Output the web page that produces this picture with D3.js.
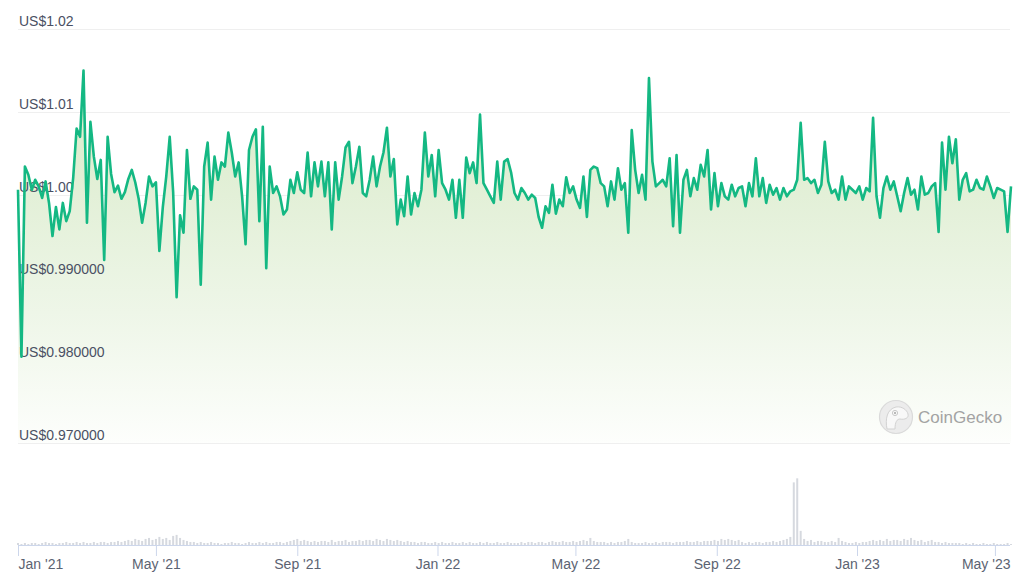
<!DOCTYPE html>
<html><head><meta charset="utf-8">
<script src="https://cdn.jsdelivr.net/npm/d3@7"></script>
<style>
html,body{margin:0;padding:0;background:#fff;}
svg{display:block;font-family:"Liberation Sans",Arial,sans-serif;}
</style></head><body>
<svg id="chart" width="1028" height="584"></svg>
<script>
// ---- data ----
const startDate = "2021-01-01";
const stepDays = 3;
const prices = [
1.0006,0.9804,1.0034,1.0024,1.0006,1.0018,1.0010,0.9996,1.0016,0.9990,
0.9950,0.9985,0.9958,0.9990,0.9968,0.9980,1.0020,1.0080,1.0070,1.0150,
0.9966,1.0088,1.0046,1.0019,1.0042,0.9921,1.0070,1.0025,1.0003,1.0011,
0.9995,1.0003,1.0019,1.0030,1.0015,0.9995,0.9966,0.9990,1.0022,1.0010,
1.0015,0.9932,0.9985,1.0022,1.0070,1.0003,0.9876,0.9975,0.9954,1.0054,
0.9995,1.0010,1.0006,0.9891,1.0034,1.0063,0.9994,1.0046,1.0018,1.0039,
1.0034,1.0075,1.0051,1.0022,1.0039,0.9998,0.9940,1.0054,1.0070,1.0079,
0.9968,1.0082,0.9911,1.0034,1.0002,1.0010,0.9998,0.9976,0.9982,1.0018,
1.0002,1.0027,1.0006,1.0002,1.0051,0.9998,1.0039,1.0010,1.0040,0.9998,
1.0039,0.9958,1.0039,0.9994,1.0022,1.0057,1.0064,1.0014,1.0034,1.0058,
1.0002,0.9998,1.0018,1.0046,1.0010,1.0034,1.0051,1.0081,1.0022,1.0043,
0.9964,0.9994,0.9974,1.0022,0.9976,1.0002,0.9986,1.0006,1.0075,1.0022,
1.0048,0.9998,1.0054,1.0014,1.0006,0.9994,1.0018,0.9972,1.0018,0.9972,
1.0045,1.0026,1.0039,1.0014,1.0097,1.0014,1.0006,0.9998,0.9990,1.0040,
0.9994,1.0040,1.0043,1.0027,1.0002,0.9994,1.0008,1.0002,0.9994,1.0000,
0.9996,0.9973,0.9960,0.9986,0.9978,1.0012,0.9977,0.9994,0.9986,1.0021,
1.0002,1.0010,0.9994,0.9984,1.0022,0.9973,1.0030,1.0034,1.0032,1.0014,
1.0010,0.9986,1.0016,0.9994,1.0032,1.0006,1.0014,0.9954,1.0078,1.0030,
1.0002,1.0024,0.9994,1.0141,1.0040,1.0010,1.0014,1.0018,1.0010,1.0044,
0.9962,1.0048,0.9954,1.0018,1.0030,0.9998,1.0020,1.0006,1.0036,1.0022,
1.0054,0.9982,1.0026,0.9986,1.0014,0.9998,0.9994,1.0012,0.9998,1.0008,
1.0010,0.9986,1.0014,0.9998,1.0044,0.9998,1.0020,0.9990,1.0012,1.0000,
1.0008,0.9994,1.0008,0.9998,1.0004,1.0006,1.0018,1.0087,1.0018,1.0020,
1.0014,1.0018,1.0002,1.0012,1.0064,1.0016,1.0002,1.0006,0.9994,1.0022,
0.9994,1.0010,1.0006,1.0002,1.0010,0.9994,1.0008,1.0004,1.0093,0.9998,
0.9972,1.0008,1.0022,1.0006,1.0016,0.9998,0.9980,1.0002,1.0020,1.0000,
1.0006,0.9982,1.0022,1.0000,1.0002,1.0010,1.0014,0.9955,1.0063,1.0006,
1.0070,1.0038,1.0067,0.9994,1.0018,1.0026,1.0004,1.0006,1.0018,1.0008,
1.0006,1.0022,1.0010,0.9996,1.0008,1.0006,1.0004,0.9955,1.0010
];
const volumes = [
2,1,2,1,2,2,1,2,3,2, 2,1,2,2,3,2,2,3,2,3, 2,2,3,2,3,3,2,3,3,4,
3,4,5,4,6,5,4,6,7,5, 6,8,6,7,5,9,10,7,5,4,
3,3,2,3,2,2,3,2,2,1, 2,2,3,2,2,1,2,3,2,2, 3,2,3,2,2,3,3,2,3,4,
5,6,4,5,4,3,4,3,4,4, 3,5,3,4,4,5,3,4,4,5,
4,5,5,4,6,5,4,6,5,4, 5,4,3,4,3,3,2,3,3,2, 2,3,2,3,2,2,3,2,2,3, 2,3,2,2,3,2,3,2,2,3,
2,2,3,2,2,2,3,2,3,3, 2,3,3,2,3,4,3,3,4,3, 3,4,3,4,5,4,7,4,3,3, 3,2,3,2,3,3,4,6,3,2,
2,2,3,2,2,3,2,3,3,3, 2,3,3,3,4,3,3,4,3,4, 4,4,5,4,6,5,6,5,4,5, 3,2,3,2,3,3,2,3,3,4, 3,4,5,6,8,
62,66,14,6,4,5,3,4,4,3, 3,4,3,7,4,3,2,2,3,2, 3,3,4,5,4,5,4,6,4,5, 5,4,6,5,7,5,4,5,3,4,
5,3,3,2,3,2,2,2,2,1, 2,1,2,1,1,2,1,1,2,1, 1,1,2,1
];
const yTickValues = [0.97, 0.98, 0.99, 1.00, 1.01, 1.02];
const yTickLabels = ["US$0.970000", "US$0.980000", "US$0.990000", "US$1.00", "US$1.01", "US$1.02"];
const xTickDates = ["2021-01-01", "2021-05-01", "2021-09-01", "2022-01-01", "2022-05-01", "2022-09-01", "2023-01-01", "2023-05-01"];
const xTickLabels = ["Jan '21", "May '21", "Sep '21", "Jan '22", "May '22", "Sep '22", "Jan '23", "May '23"];

// ---- build ----
const parse = d3.utcParse("%Y-%m-%d");
const t0 = parse(startDate);
const n = Math.min(prices.length, volumes.length);
const data = d3.range(n).map(i => ({
  date: d3.utcDay.offset(t0, i * stepDays),
  price: prices[i],
  volume: volumes[i]
}));

const left = 18, right = 1011;
const svg = d3.select("#chart");

const x = d3.scaleUtc()
  .domain([t0, data[n - 1].date])
  .range([left, right]);
const y = d3.scaleLinear().domain([0.97, 1.02]).range([442.7, 29.3]);
const volBase = 545;
const yVol = d3.scaleLinear().domain([0, d3.max(volumes) * 1.2]).range([volBase, volBase - 80]);

const defs = svg.append("defs");
const grad = defs.append("linearGradient").attr("id", "areaGrad")
  .attr("gradientUnits", "userSpaceOnUse")
  .attr("x1", 0).attr("x2", 0).attr("y1", y(1.005)).attr("y2", y(0.97));
grad.append("stop").attr("offset", 0).attr("stop-color", "#dfeed2");
grad.append("stop").attr("offset", 0.55).attr("stop-color", "#eef6e8");
grad.append("stop").attr("offset", 1).attr("stop-color", "#fdfefc");

// gridlines
svg.append("g").selectAll("line").data(yTickValues).join("line")
  .attr("x1", left).attr("x2", 1010)
  .attr("y1", d => Math.round(y(d)) + 0.5).attr("y2", d => Math.round(y(d)) + 0.5)
  .attr("stroke", "#efefef").attr("stroke-width", 1);

// area
svg.append("path").datum(data)
  .attr("fill", "url(#areaGrad)")
  .attr("d", d3.area().x(d => x(d.date)).y0(y(0.97)).y1(d => y(d.price)));

// watermark
const wm = svg.append("g").attr("transform", "translate(896,417)");
wm.append("circle").attr("r", 16.5).attr("fill", "#ececec").attr("stroke", "#dadada").attr("stroke-width", 1.2);
wm.append("path")
  .attr("d", "M-9,12 C-11,2 -9,-8 0,-10 C6,-11 11,-7 12,-3 C13,1 9,3 4,2 C1,2 -1,5 -1,12 Z")
  .attr("fill", "#f8f8f8").attr("stroke", "#d2d2d2").attr("stroke-width", 1);
wm.append("circle").attr("cx", -1).attr("cy", -4).attr("r", 2.6).attr("fill", "#fff").attr("stroke", "#c8c8c8");
wm.append("circle").attr("cx", -1).attr("cy", -4).attr("r", 1.2).attr("fill", "#b8b8b8");
svg.append("text").attr("x", 918).attr("y", 423)
  .attr("font-size", 17).attr("fill", "#a3a3a3").text("CoinGecko");

// y labels
svg.append("g").selectAll("text").data(yTickValues).join("text")
  .attr("x", 19).attr("y", d => y(d) - 3)
  .attr("font-size", 14).attr("fill", "#4a5063")
  .text((d, i) => yTickLabels[i]);

// price line
svg.append("path").datum(data)
  .attr("fill", "none").attr("stroke", "#14b883").attr("stroke-width", 2.6)
  .attr("stroke-linejoin", "round")
  .attr("d", d3.line().x(d => x(d.date)).y(d => y(d.price)));

// volume bars
const bw = 2.0;
svg.append("g").selectAll("rect").data(data).join("rect")
  .attr("x", d => x(d.date) - bw / 2).attr("width", bw)
  .attr("y", d => yVol(d.volume)).attr("height", d => volBase - yVol(d.volume))
  .attr("fill", "#d6d9df");

// x axis
const xTicks = xTickDates.map(parse);
const xAxis = d3.axisBottom(x)
  .tickValues(xTicks)
  .tickSize(11)
  .tickFormat((d, i) => xTickLabels[i]);
const gx = svg.append("g").attr("transform", `translate(0,${volBase})`).call(xAxis);
gx.select(".domain").attr("d", `M${left},0.5H1010`).attr("stroke", "#ccd6eb");
gx.selectAll(".tick line").attr("stroke", "#ccd6eb");
gx.selectAll(".tick text")
  .attr("font-family", "Liberation Sans, Arial, sans-serif")
  .attr("font-size", 14).attr("fill", "#5c6372").attr("y", 14).attr("dy", "0.71em");
const tickTexts = gx.selectAll(".tick text").nodes();
d3.select(tickTexts[0]).attr("text-anchor", "start");
d3.select(tickTexts[tickTexts.length - 1]).attr("text-anchor", "end")
  .attr("x", 1010 - x(xTicks[xTicks.length - 1]));
</script>
</body></html>
